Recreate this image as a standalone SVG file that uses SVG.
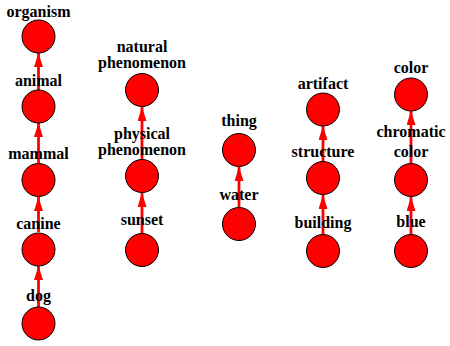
<svg xmlns="http://www.w3.org/2000/svg" width="450" height="346" viewBox="0 0 450 346" font-family="'Liberation Serif', 'Times New Roman', serif">
<style>
.n circle{fill:#ff0000;stroke:#000;stroke-width:1}
text{font-weight:bold;font-size:16px;text-anchor:middle;fill:#000}
.e line{stroke:#ff0000;stroke-width:2.8}
</style>
<defs>
<marker id="ah" viewBox="0 0 14 9" refX="14" refY="4.5" markerWidth="14" markerHeight="9" markerUnits="userSpaceOnUse" orient="auto">
<path d="M0,0 L14,4.5 L0,9 Z" fill="#ff0000"/>
</marker>
</defs>
<g id="edges" class="e">
<line x1="38.5" y1="307" x2="38.5" y2="266" marker-end="url(#ah)"/>
<line x1="38.5" y1="232" x2="38.5" y2="197" marker-end="url(#ah)"/>
<line x1="38.5" y1="163" x2="38.5" y2="123" marker-end="url(#ah)"/>
<line x1="38.5" y1="90" x2="38.5" y2="53" marker-end="url(#ah)"/>
<line x1="142" y1="233" x2="142" y2="193" marker-end="url(#ah)"/>
<line x1="142" y1="159" x2="142" y2="107" marker-end="url(#ah)"/>
<line x1="239" y1="207" x2="239" y2="167" marker-end="url(#ah)"/>
<line x1="323" y1="234" x2="323" y2="195" marker-end="url(#ah)"/>
<line x1="323" y1="161" x2="323" y2="126" marker-end="url(#ah)"/>
<line x1="411" y1="234" x2="411" y2="197" marker-end="url(#ah)"/>
<line x1="411" y1="163" x2="411" y2="111" marker-end="url(#ah)"/>
</g>
<g id="organism" class="n"><circle cx="38.5" cy="36.5" r="16.5"/><text x="38.5" y="17">organism</text></g>
<g id="animal" class="n"><circle cx="38.5" cy="106.5" r="16.5"/><text x="38.5" y="86">animal</text></g>
<g id="mammal" class="n"><circle cx="38.5" cy="180" r="16.5"/><text x="38.5" y="159">mammal</text></g>
<g id="canine" class="n"><circle cx="38.5" cy="249.5" r="16.5"/><text x="38.5" y="229">canine</text></g>
<g id="dog" class="n"><circle cx="38.5" cy="323.5" r="16.5"/><text x="38.5" y="301">dog</text></g>
<g id="natural_phenomenon" class="n"><circle cx="142" cy="90" r="16.5"/><text x="142" y="52">natural</text><text x="142" y="68">phenomenon</text></g>
<g id="physical_phenomenon" class="n"><circle cx="142" cy="176" r="16.5"/><text x="142" y="139">physical</text><text x="142" y="155">phenomenon</text></g>
<g id="sunset" class="n"><circle cx="142" cy="250" r="16.5"/><text x="142" y="225">sunset</text></g>
<g id="thing" class="n"><circle cx="239" cy="150" r="16.5"/><text x="239" y="126">thing</text></g>
<g id="water" class="n"><circle cx="239" cy="224" r="16.5"/><text x="239" y="200">water</text></g>
<g id="artifact" class="n"><circle cx="323" cy="109.5" r="16.5"/><text x="323" y="89">artifact</text></g>
<g id="structure" class="n"><circle cx="323" cy="178" r="16.5"/><text x="323" y="157">structure</text></g>
<g id="building" class="n"><circle cx="323" cy="251" r="16.5"/><text x="323" y="228">building</text></g>
<g id="color" class="n"><circle cx="411" cy="94.5" r="16.5"/><text x="411" y="73">color</text></g>
<g id="chromatic_color" class="n"><circle cx="411" cy="180" r="16.5"/><text x="411" y="137">chromatic</text><text x="411" y="157">color</text></g>
<g id="blue" class="n"><circle cx="411" cy="251" r="16.5"/><text x="411" y="227">blue</text></g>
</svg>
